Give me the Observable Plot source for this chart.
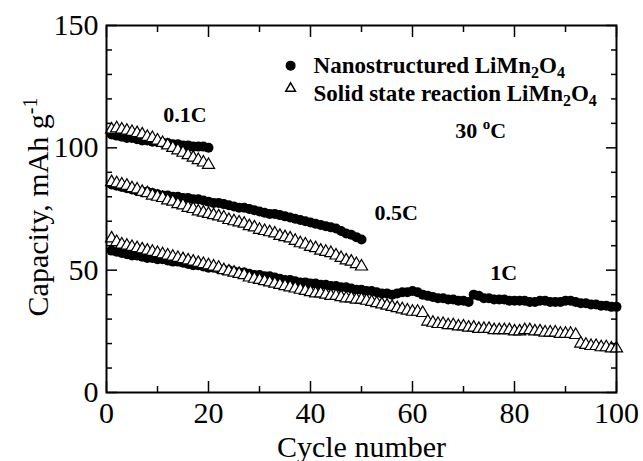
<!DOCTYPE html>
<html><head><meta charset="utf-8">
<script src="https://cdn.jsdelivr.net/npm/d3@7"></script>
<script src="https://cdn.jsdelivr.net/npm/@observablehq/plot@0.6"></script>
<style>body{margin:0;background:#fff}</style>
</head><body><div id="chart"></div>
<script>
// Nanostructured LiMn2O4 (filled circles)
const nano01 = [105.5,105,104.5,104,104,103.5,103,103,102.5,102.5,102,102,101.5,101.5,101,101,100.5,100.5,100.5,100];
const nano05 = [85,84.5,84,83.5,83,82.5,82,82,81.5,81, 80.5,80.5,80,80,79.5,79.5,79,79,78.5,78, 77.5,77.5,77,76.5,76,75.5,75.5,75,74.5,74, 73.5,73,73,72.5,72,71.5,71,70.5,70,69.5, 69,68.5,68,67.5,67,66,65,64.5,63.5,62.5];
const nano1 = [58,57.5,57,56.5,56,56,55.5,55,55,54.5, 54.5,54,53.5,53.5,53,52.5,52,52,51.5,51, 51,50.5,50,50,49.5,49,49,48.5,48,48, 47.5,47.5,47,46.5,46,46,45.5,45,45,44.5, 44.5,44,44,43.5,43.5,43,43,42.5,42,42, 41.5,41.5,41,40.5,40.5,40,40.5,41,41,41.5, 41,40,39.5,39,38.5,38.5,38,38,37.5,37.5, 37,40,39.5,38.5,38.5,38,38,38,37.5,37.5, 37.5,37.5,37,37,37.5,37.5,37,37,37,37.5, 37.5,37,36.5,36.5,36,36,35.5,35.5,35,35];
// Solid state reaction LiMn2O4 (open triangles)
const solid01 = [107.5,108,107.5,107,106.5,106,105.5,104.5,104,103,102,101,100,99,98,97,96,95,94,93];
const solid05 = [86,85.5,85,84.5,83.5,83,82,81.5,80.5,80, 79.5,78.5,78,77,76.5,75.5,75,74,73.5,73, 72.5,72,71.5,70.5,70,69.5,69,68,67.5,66.5, 66,65.5,65,64,63.5,63,62,61,60.5,59.5, 59,58,57.5,57,56,55,54,53.5,52.5,51.5];
const solid1 = [63,61.5,60.5,60,59.5,59,58.5,58,57.5,57, 56.5,56,55.5,55,54.5,54,53.5,53,52.5,52, 51.5,51,50,49.5,49,48.5,48,47,46.5,46, 45.5,45,44.5,44,43.5,43,42.5,42,41.5,41, 40.5,40.5,40,39.5,39.5,39,38.5,38.5,38,38, 37.5,37,36.5,36,35.5,35,34.5,34,33.5,33, 33,32.5,29,28.5,28,28,27.5,27.5,27,27, 26.5,26.5,26,26,26,25.5,25.5,25.5,25.5,25, 25,25.5,25.5,25,25,24.5,24.5,24.5,24,24, 24,23.5,20,19.5,19,19,18.5,18.5,18,18];

const xMajor = [0,20,40,60,80,100];
const xMinor = [10,30,50,70,90];
const yMajor = [0,50,100,150];
const yMinor = [10,20,30,40,60,70,80,90,110,120,130,140];

const rateLabels = [
  {text:"0.1C", x:15.4, y:110.7},
  {text:"0.5C", x:56.8, y:70.7},
  {text:"1C", x:77.9, y:45.8}
];
const tempLabel = [{text:"30 oC", x:68.4, y:104.2}];
const legendNames = ["Nanostructured LiMn2O4", "Solid state reaction LiMn2O4"];
const legendPos = [{x:36.1, y:133.6, ty:130.4}, {x:36.1, y:124.3, ty:119.3}];
const xTitle = "Cycle number";
const yTitle = "Capacity, mAh g-1";

const build = (vals) => vals.map((v, i) => ({cycle: i + 1, capacity: v}));
const nanoData = [nano01, nano05, nano1].flatMap(build);
const solidData = [solid01, solid05, solid1].flatMap(build);

const serif = "'Liberation Serif', 'Times New Roman', serif";
const blank = () => "";

const chart = Plot.plot({
  width: 643, height: 461,
  marginLeft: 106, marginRight: 27, marginTop: 25, marginBottom: 69,
  style: {fontFamily: serif, fontSize: "30px", background: "white", color: "black", overflow: "visible"},
  x: {domain: [0, 100]},
  y: {domain: [0, 150]},
  marks: [
    Plot.dot(nanoData, {x: "cycle", y: "capacity", r: 5, fill: "black"}),
    Plot.dot(solidData, {x: "cycle", y: "capacity", r: 4.5, symbol: "triangle", fill: "white", stroke: "black", strokeWidth: 1.2}),
    Plot.frame({stroke: "black", strokeWidth: 2}),
    // bottom / top ticks (inward)
    Plot.axisX(xMajor, {anchor: "bottom", tickSize: 0, tickPadding: 9, fontSize: 30, label: null}),
    Plot.axisX(xMajor, {anchor: "bottom", tickSize: -11, tickFormat: blank, label: null, strokeWidth: 1.5}),
    Plot.axisX(xMinor, {anchor: "bottom", tickSize: -6, tickFormat: blank, label: null, strokeWidth: 1.5}),
    Plot.axisX(xMajor, {anchor: "top", tickSize: -11, tickFormat: blank, label: null, strokeWidth: 1.5}),
    Plot.axisX(xMinor, {anchor: "top", tickSize: -6, tickFormat: blank, label: null, strokeWidth: 1.5}),
    // left / right ticks (inward)
    Plot.axisY(yMajor, {anchor: "left", tickSize: 0, tickPadding: 8, fontSize: 30, label: null}),
    Plot.axisY(yMajor, {anchor: "left", tickSize: -11, tickFormat: blank, label: null, strokeWidth: 1.5}),
    Plot.axisY(yMinor, {anchor: "left", tickSize: -6, tickFormat: blank, label: null, strokeWidth: 1.5}),
    Plot.axisY(yMajor, {anchor: "right", tickSize: -11, tickFormat: blank, label: null, strokeWidth: 1.5}),
    Plot.axisY(yMinor, {anchor: "right", tickSize: -6, tickFormat: blank, label: null, strokeWidth: 1.5}),
    // axis titles
    Plot.text([xTitle], {frameAnchor: "bottom", dy: 64, lineAnchor: "bottom", textAnchor: "middle", fontSize: 30, fill: "black"}),
    Plot.text([yTitle], {frameAnchor: "left", dx: -59, dy: -2, rotate: -90, lineAnchor: "bottom", textAnchor: "middle", fontSize: 30, fill: "black"}),
    // annotations
    Plot.text(rateLabels, {x: "x", y: "y", text: "text", textAnchor: "middle", lineAnchor: "bottom", fontSize: 22, fontWeight: "bold", fill: "black"}),
    Plot.text(tempLabel, {x: "x", y: "y", text: "text", textAnchor: "start", lineAnchor: "bottom", fontSize: 22, fontWeight: "bold", fill: "black"}),
    // legend
    Plot.dot([legendPos[0]], {x: "x", y: "y", r: 5, fill: "black"}),
    Plot.dot([legendPos[1]], {x: "x", y: "y", r: 3.6, symbol: "triangle", fill: "white", stroke: "black", strokeWidth: 1.5}),
    Plot.text(legendNames, {x: (d, i) => legendPos[i].x + 4.5, y: (d, i) => legendPos[i].ty, text: d => d, textAnchor: "start", lineAnchor: "bottom", fontSize: 23, fontWeight: "bold", fill: "black"})
  ]
});

// rich text: subscripts / superscripts
function rich(el, parts) {
  const sel = d3.select(el);
  sel.text(null);
  let cur = 0;
  for (const p of parts) {
    const ts = sel.append("tspan").text(p.t);
    const shift = p.shift || 0;
    if (shift !== cur) ts.attr("dy", (shift - cur) + "px");
    if (p.size) ts.attr("font-size", p.size + "px");
    cur = shift;
  }
}
d3.select(chart).selectAll("text").each(function() {
  const t = this.textContent;
  if (t.endsWith("LiMn2O4")) {
    const head = t.slice(0, -7);
    rich(this, [{t: head + "LiMn"}, {t: "2", shift: 5, size: 16}, {t: "O", shift: 0}, {t: "4", shift: 5, size: 16}]);
  } else if (t === yTitle) {
    rich(this, [{t: "Capacity, mAh g"}, {t: "-1", shift: -11, size: 20}]);
  } else if (t === "30 oC") {
    rich(this, [{t: "30 "}, {t: "o", shift: -9, size: 15}, {t: "C", shift: 0}]);
  }
});

document.getElementById("chart").appendChild(chart);
</script>
</body></html>
